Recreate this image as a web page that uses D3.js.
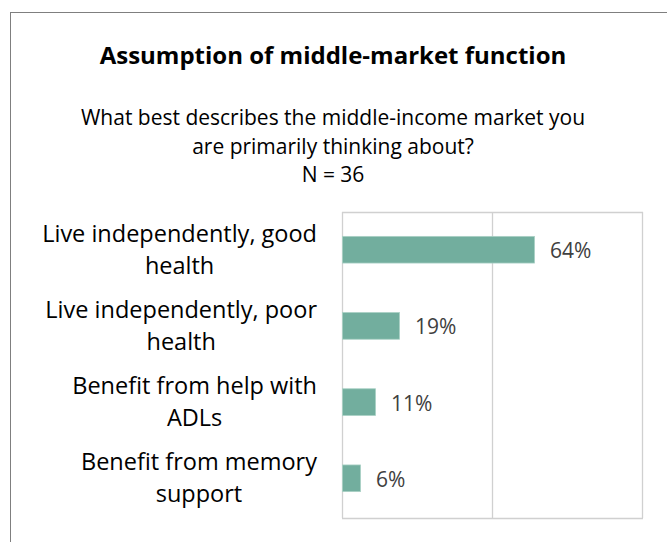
<!DOCTYPE html>
<html>
<head>
<meta charset="utf-8">
<script src="https://cdn.jsdelivr.net/npm/d3@7"></script>
<style>
  body { margin: 0; background: #fff; }
  text { font-family: "Open Sans", sans-serif; }
</style>
</head>
<body>
<div id="chart"></div>
<script>
// chart data
var categories = [
    ["Live independently, good", "health"],
    ["Live independently, poor", "health"],
    ["Benefit from help with", "ADLs"],
    ["Benefit from memory", "support"]
];
var values = [0.64, 0.19, 0.11, 0.06];
var valueLabels = ["64%", "19%", "11%", "6%"];
var gridTicks = [0, 0.5, 1];

var titleText = "Assumption of middle-market function";
var subtitleLines = ["What best describes the middle-income market you", "are primarily thinking about?", "N = 36"];

var width = 667, height = 542;
var margin = {left: 342, right: 25, top: 212, bottom: 24};
var barColor = "#72ae9e";
var labelRight = 317; // right edge of the wrapped category label block

var svg = d3.select("#chart")
    .append("svg")
    .attr("width", width)
    .attr("height", height)
    .attr("viewBox", [0, 0, width, height]);

// outer frame
svg.append("rect")
    .attr("x", 10.5).attr("y", 12.5)
    .attr("width", width + 10).attr("height", height + 10)
    .attr("fill", "none")
    .attr("stroke", "#7f7f7f")
    .attr("stroke-width", 1);

svg.append("text")
    .attr("x", 333).attr("y", 64)
    .attr("text-anchor", "middle")
    .style("font-weight", "bold")
    .style("font-size", "24px")
    .attr("fill", "#000")
    .text(titleText);

svg.append("g")
    .selectAll("text")
    .data(subtitleLines)
    .join("text")
        .attr("x", 333)
        .attr("y", (d, i) => 125 + i * 28.7)
        .attr("text-anchor", "middle")
        .style("font-size", "21px")
        .attr("fill", "#000")
        .text(d => d);

const xScale = d3.scaleLinear([0, 1], [margin.left, width - margin.right]);
const yScale = d3.scaleBand(d3.range(values.length), [margin.top, height - margin.bottom - 2])
    .paddingInner(0.65).paddingOuter(0.32);

// gridlines + frame
svg.append("g")
    .selectAll("line")
    .data(gridTicks)
    .join("line")
        .attr("x1", d => Math.round(xScale(d)) + 0.5)
        .attr("x2", d => Math.round(xScale(d)) + 0.5)
        .attr("y1", margin.top)
        .attr("y2", height - margin.bottom)
        .attr("stroke", "#d0d0d0")
        .attr("stroke-width", 1.3);

svg.append("g")
    .selectAll("line")
    .data([margin.top, height - margin.bottom])
    .join("line")
        .attr("x1", margin.left)
        .attr("x2", xScale(1) + 1)
        .attr("y1", d => d + 0.5)
        .attr("y2", d => d + 0.5)
        .attr("stroke", "#d0d0d0")
        .attr("stroke-width", 1.3);

// bars
svg.append("g")
    .selectAll("rect")
    .data(values)
    .join("rect")
        .attr("x", xScale(0) + 0.5)
        .attr("y", (d, i) => yScale(i))
        .attr("width", d => xScale(d) - xScale(0))
        .attr("height", yScale.bandwidth())
        .attr("fill", barColor)
        .attr("stroke", "#a9d0c4")
        .attr("stroke-width", 0.8);

// value labels
svg.append("g")
    .selectAll("text")
    .data(values)
    .join("text")
        .attr("x", d => xScale(d) + 16)
        .attr("y", (d, i) => yScale(i) + yScale.bandwidth() / 2 + 8.5)
        .style("font-size", "21px")
        .attr("fill", "#404040")
        .text((d, i) => valueLabels[i]);

// category labels: lines centred on each other, block right-aligned
var catG = svg.append("g")
    .selectAll("text")
    .data(categories)
    .join("text")
        .attr("text-anchor", "middle")
        .style("font-size", "23.5px")
        .attr("fill", "#000")
        .attr("y", (d, i) => yScale(i) + yScale.bandwidth() / 2);

catG.selectAll("tspan")
    .data(d => d)
    .join("tspan")
        .attr("dy", (d, i) => i === 0 ? -8 : 32)
        .text(d => d);

catG.each(function() {
    var spans = d3.select(this).selectAll("tspan");
    var w = d3.max(spans.nodes(), n => n.getComputedTextLength());
    spans.attr("x", labelRight - w / 2);
});
</script>
</body>
</html>
